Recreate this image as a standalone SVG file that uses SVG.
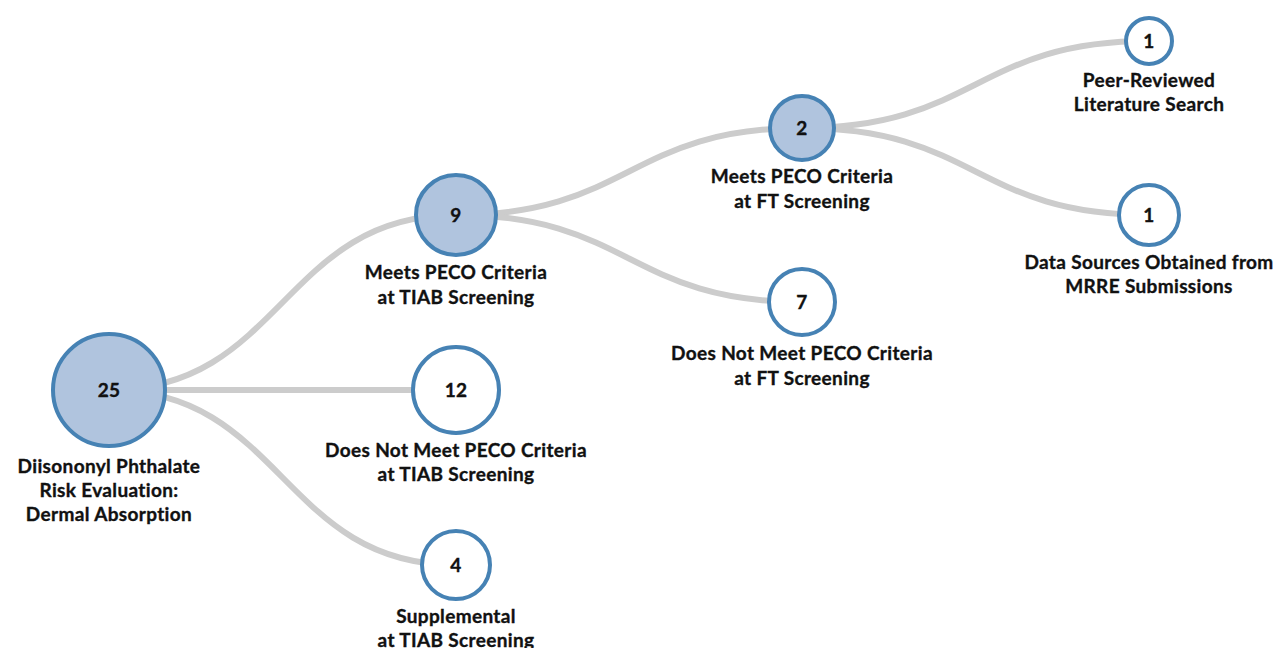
<svg xmlns="http://www.w3.org/2000/svg" width="1282" height="648" viewBox="0 0 1282 648">
<style>
.link{fill:none;stroke:#cccccc;stroke-width:6}
.node circle{stroke:#4682b4;stroke-width:4}
.full{fill:#b0c4de}
.empty{fill:#ffffff}
text{font-family:Lato,"Liberation Sans",sans-serif;font-weight:bold;font-size:19px;letter-spacing:0.35px;fill:#111;stroke:#111;stroke-width:0.35px;text-anchor:middle}
</style>
<rect width="1282" height="648" fill="#ffffff"/>
<g id="links">
<path class="link" d="M109,390 C282.5,390 282.5,215 456,215"/>
<path class="link" d="M109,390 C282.5,390 282.5,390 456,390"/>
<path class="link" d="M109,390 C282.5,390 282.5,565 456,565"/>
<path class="link" d="M456,215 C629,215 629,128 802,128"/>
<path class="link" d="M456,215 C629,215 629,302 802,302"/>
<path class="link" d="M802,128 C975.5,128 975.5,41 1149,41"/>
<path class="link" d="M802,128 C975.5,128 975.5,215 1149,215"/>
</g>
<g id="node-root" class="node">
<circle class="full" cx="109" cy="390" r="56"/>
<text x="109" y="397">25</text>
<text x="109" y="473">Diisononyl Phthalate</text>
<text x="109" y="497">Risk Evaluation:</text>
<text x="109" y="521">Dermal Absorption</text>
</g>
<g id="node-tiab-meets" class="node">
<circle class="full" cx="456" cy="215" r="40"/>
<text x="456" y="222">9</text>
<text x="456" y="279">Meets PECO Criteria</text>
<text x="456" y="304">at TIAB Screening</text>
</g>
<g id="node-tiab-not" class="node">
<circle class="empty" cx="456" cy="390" r="43"/>
<text x="456" y="397">12</text>
<text x="456" y="457">Does Not Meet PECO Criteria</text>
<text x="456" y="481">at TIAB Screening</text>
</g>
<g id="node-tiab-supp" class="node">
<circle class="empty" cx="456" cy="565" r="34"/>
<text x="456" y="572">4</text>
<text x="456" y="623">Supplemental</text>
<text x="456" y="647">at TIAB Screening</text>
</g>
<g id="node-ft-meets" class="node">
<circle class="full" cx="802" cy="128" r="32"/>
<text x="802" y="135">2</text>
<text x="802" y="183">Meets PECO Criteria</text>
<text x="802" y="208">at FT Screening</text>
</g>
<g id="node-ft-not" class="node">
<circle class="empty" cx="802" cy="302" r="33"/>
<text x="802" y="309">7</text>
<text x="802" y="360">Does Not Meet PECO Criteria</text>
<text x="802" y="385">at FT Screening</text>
</g>
<g id="node-peer" class="node">
<circle class="empty" cx="1149" cy="41" r="23"/>
<text x="1149" y="48">1</text>
<text x="1149" y="87">Peer-Reviewed</text>
<text x="1149" y="111">Literature Search</text>
</g>
<g id="node-mrre" class="node">
<circle class="empty" cx="1149" cy="215" r="30"/>
<text x="1149" y="222">1</text>
<text x="1149" y="269">Data Sources Obtained from</text>
<text x="1149" y="293">MRRE Submissions</text>
</g>
</svg>
